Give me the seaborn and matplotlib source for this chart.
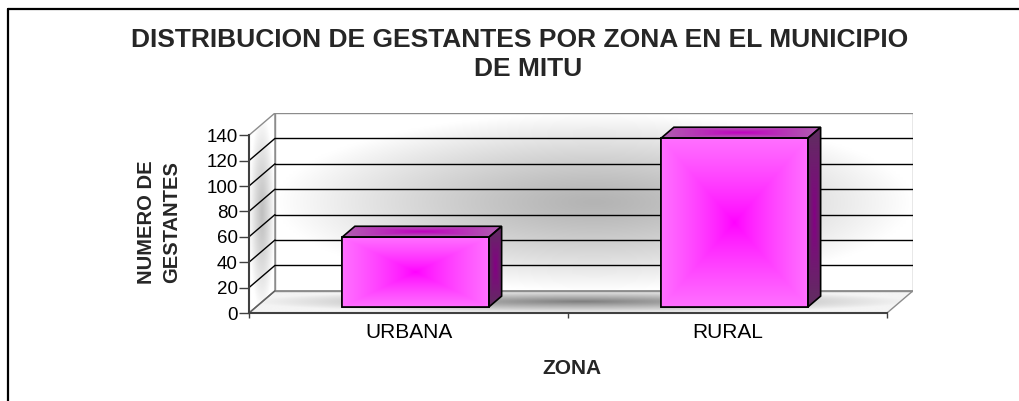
import numpy as np
import pandas as pd
import seaborn as sns
import matplotlib.pyplot as plt
from matplotlib.patches import Polygon
from matplotlib.lines import Line2D
from matplotlib.colors import to_rgb

# datos del grafico
zonas = ["URBANA", "RURAL"]
gestantes = [55, 133]
yticks = [0, 20, 40, 60, 80, 100, 120, 140]
titulo_1 = "DISTRIBUCION DE GESTANTES POR ZONA EN EL MUNICIPIO"
titulo_2 = "DE MITU"
eje_x = "ZONA"
eje_y = "NUMERO DE\nGESTANTES"

df = pd.DataFrame({"zona": zonas, "gestantes": gestantes})

W, H = 1019, 401
sns.set_theme(style="white")
plt.rcParams['font.family'] = ['Liberation Sans', 'DejaVu Sans']

fig = plt.figure(figsize=(W / 100, H / 100), dpi=100)
ax = fig.add_axes([249 / W, 1 - 313 / H, 664 / W, 200 / H])

# profundidad del efecto 3D (en unidades de datos)
DX = 0.0815
DY = 17.5
YMAX = 140
x0, x1 = -0.5, 1.5


def gradiente(ax, pts, c_centro, c_borde, z, modo="radial", pot=1.0):
    """Relleno degradado recortado a un poligono."""
    poly = Polygon(pts, closed=True, fc='none', ec='none', zorder=z)
    ax.add_patch(poly)
    xs = [p[0] for p in pts]
    ys = [p[1] for p in pts]
    u = np.linspace(-1, 1, 200)
    uu, vv = np.meshgrid(u, u)
    if modo == "rect":
        t = np.maximum(np.abs(uu), np.abs(vv))
    else:
        t = np.clip(np.sqrt(uu ** 2 + vv ** 2), 0, 1)
    t = t ** pot
    c0 = np.array(to_rgb(c_centro))
    c1 = np.array(to_rgb(c_borde))
    img = c0 + (c1 - c0) * t[..., None]
    im = ax.imshow(img, extent=(min(xs), max(xs), min(ys), max(ys)), origin='lower',
                   aspect='auto', interpolation='bilinear', zorder=z)
    im.set_clip_path(poly)
    return im


def contorno(ax, pts, z, color='black', lw=1.2):
    ax.add_patch(Polygon(pts, closed=True, fill=False, ec=color, lw=lw, zorder=z))


# barras (cara frontal)
sns.barplot(data=df, x="zona", y="gestantes", width=0.46, color="#ff55ff",
            edgecolor="black", linewidth=1.2, ax=ax, zorder=4)
barras = list(ax.patches)

# paredes y piso
pared = [(x0 + DX, DY), (x1 + DX, DY), (x1 + DX, YMAX + DY), (x0 + DX, YMAX + DY)]
lado = [(x0, 0), (x0 + DX, DY), (x0 + DX, YMAX + DY), (x0, YMAX)]
piso = [(x0, 0), (x1, 0), (x1 + DX, DY), (x0 + DX, DY)]
gradiente(ax, pared, '#b4b4b4', '#ffffff', 0.5, pot=1.3)
gradiente(ax, lado, '#c0c0c0', '#ffffff', 0.6, pot=1.2)
gradiente(ax, piso, '#7c7c7c', '#f4f4f4', 0.7, pot=0.9)
for pts in (pared, lado, piso):
    contorno(ax, pts, 1.0, color='#8c8c8c', lw=1.0)

# lineas de division
for v in yticks[1:-1]:
    ax.plot([x0 + DX, x1 + DX], [v + DY, v + DY], color='black', lw=1.0, zorder=1.5)
    ax.plot([x0, x0 + DX], [v, v + DY], color='black', lw=1.0, zorder=1.5)
ax.plot([x0, x0 + DX], [0, DY], color='#606060', lw=1.0, zorder=1.5)

# caras laterales y superiores de las barras
f1, prof = 0.27, 0.49
bx, by = prof * DX, prof * DY
for p in barras:
    p.set_x(p.get_x() + f1 * DX)
    p.set_y(p.get_y() + f1 * DY)
    xa, ya = p.get_x(), p.get_y()
    xb, yb = xa + p.get_width(), ya + p.get_height()
    frente = [(xa, ya), (xb, ya), (xb, yb), (xa, yb)]
    lat = [(xb, ya), (xb + bx, ya + by), (xb + bx, yb + by), (xb, yb)]
    sup = [(xa, yb), (xb, yb), (xb + bx, yb + by), (xa + bx, yb + by)]
    gradiente(ax, frente, '#ff00ff', '#ff70ff', 4.1, modo="rect", pot=0.8)
    gradiente(ax, lat, '#850085', '#5f2f5f', 4.1, modo="rect")
    gradiente(ax, sup, '#c000c0', '#b060b0', 4.1, modo="rect")
    for pts in (frente, lat, sup):
        contorno(ax, pts, 4.3)

# ejes
ax.set_xlim(x0, x1 + DX)
ax.set_ylim(0, YMAX + DY)
ax.grid(False)
ax.set_facecolor('none')
for s in ['top', 'right']:
    ax.spines[s].set_visible(False)
ax.spines['left'].set_bounds(0, YMAX)
ax.spines['bottom'].set_bounds(x0, x1)
for s in ['left', 'bottom']:
    ax.spines[s].set_color('#404040')
    ax.spines[s].set_linewidth(1.5)
    ax.spines[s].set_zorder(3)

ax.set_yticks(yticks)
ax.set_yticklabels([str(v) for v in yticks], fontsize=13.5, color='black')
ax.tick_params(axis='y', left=True, length=7, width=1, color='#404040', pad=1)
ax.set_xticks([0, 1])
ax.set_xticklabels(zonas, fontsize=15, color='black')
ax.set_xticks([x0, 0.5, x1], minor=True)
ax.tick_params(axis='x', which='major', bottom=False, length=0, pad=7)
ax.tick_params(axis='x', which='minor', bottom=True, length=3.5, width=1, color='#404040')
ax.set_xlabel("")
ax.set_ylabel("")

# textos
fig.text(520 / W, 1 - 46.7 / H, titulo_1, ha='center', va='baseline', fontsize=19, fontweight='bold')
fig.text(528 / W, 1 - 76 / H, titulo_2, ha='center', va='baseline', fontsize=19, fontweight='bold')
fig.text(572 / W, 1 - 374 / H, eje_x, ha='center', va='baseline', fontsize=15, fontweight='bold')
fig.text(159 / W, 1 - 222 / H, eje_y, ha='center', va='center', rotation=90,
         multialignment='center', linespacing=1.35, fontsize=14.5, fontweight='bold')

# marco
fig.add_artist(Line2D([8 / W, 8 / W], [0, 1 - 8.5 / H], transform=fig.transFigure, color='black', lw=1.6))
fig.add_artist(Line2D([8 / W, 1], [1 - 8.5 / H, 1 - 8.5 / H], transform=fig.transFigure, color='black', lw=1.6))

fig.savefig('out.png', dpi=100)
